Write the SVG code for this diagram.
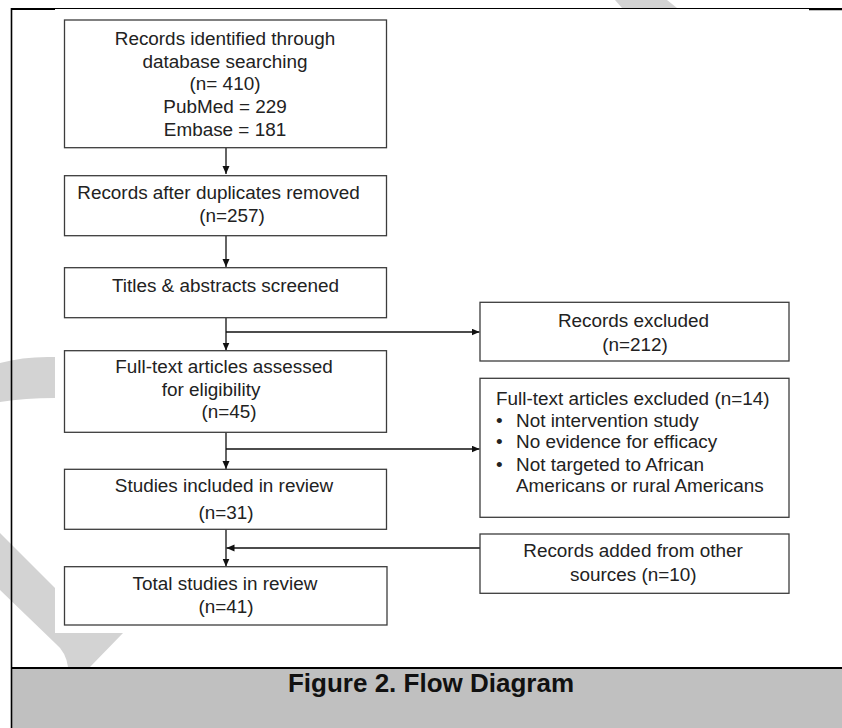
<svg xmlns="http://www.w3.org/2000/svg" width="842" height="728" viewBox="0 0 842 728">
<style>
.box{fill:#fff;stroke:#3c3c3c;stroke-width:1.3}
.t{font-family:"Liberation Sans",Arial,sans-serif;font-size:18.9px;fill:#222}
.m{text-anchor:middle}
.c{fill:none;stroke:#111;stroke-width:1.3}
.wm{fill:#d3d3d3}
.cap{font-family:"Liberation Sans",Arial,sans-serif;font-size:26px;font-weight:bold;fill:#111;text-anchor:middle}
</style>
<defs>
<marker id="ah" markerUnits="userSpaceOnUse" markerWidth="9" markerHeight="8" refX="8" refY="3.5" orient="auto">
<path d="M0,0 L8,3.5 L0,7 z" fill="#111"/>
</marker>
</defs>
<rect width="842" height="728" fill="#fff"/>
<g id="watermark">
<polygon class="wm" points="615,0 667,0 677,8 622,8"/>
<path class="wm" d="M0,363 Q25,356 55,357 L55,398 Q25,398 0,402 Z"/>
<path class="wm" d="M0,533 L55,588 L55,633 L123,633 L90,667 L68,667 Q66,652 55,643 L0,590 Z"/>
</g>
<g id="frame">
<rect x="12" y="668" width="830" height="60" fill="#c0c0c0"/>
<line x1="11" y1="668" x2="842" y2="668" stroke="#000" stroke-width="2"/>
<line x1="11.5" y1="8" x2="11.5" y2="728" stroke="#000" stroke-width="1.6"/>
<line x1="11" y1="8.5" x2="842" y2="8.5" stroke="#000" stroke-width="1.2"/>
<line x1="11" y1="9.3" x2="55" y2="9.3" stroke="#000" stroke-width="1.4"/>
<line x1="809" y1="9.6" x2="842" y2="9.6" stroke="#000" stroke-width="1.4"/>
<text class="cap" x="431" y="692">Figure 2. Flow Diagram</text>
</g>
<g id="connectors">
<line class="c" x1="226" y1="147.7" x2="226" y2="174" marker-end="url(#ah)"/>
<line class="c" x1="226" y1="235.7" x2="226" y2="267" marker-end="url(#ah)"/>
<line class="c" x1="226" y1="317.7" x2="226" y2="350.5" marker-end="url(#ah)"/>
<line class="c" x1="226" y1="332" x2="479.5" y2="332" marker-end="url(#ah)"/>
<line class="c" x1="226" y1="432.3" x2="226" y2="469" marker-end="url(#ah)"/>
<line class="c" x1="226" y1="449" x2="479.5" y2="449" marker-end="url(#ah)"/>
<line class="c" x1="226" y1="529.3" x2="226" y2="566.5" marker-end="url(#ah)"/>
<line class="c" x1="480" y1="548" x2="226.5" y2="548" marker-end="url(#ah)"/>
</g>
<g id="n1">
<rect class="box" x="64.5" y="20" width="322" height="127.7"/>
<text class="t m" x="225" y="45">Records identified through</text>
<text class="t m" x="225" y="67.5">database searching</text>
<text class="t m" x="225" y="90">(n= 410)</text>
<text class="t m" x="225" y="113">PubMed = 229</text>
<text class="t m" x="225" y="136">Embase = 181</text>
</g>
<g id="n2">
<rect class="box" x="64.5" y="175.7" width="322" height="60"/>
<text class="t m" x="218.5" y="199">Records after duplicates removed</text>
<text class="t m" x="232" y="221.7">(n=257)</text>
</g>
<g id="n3">
<rect class="box" x="64.5" y="267.7" width="322" height="50"/>
<text class="t m" x="225.5" y="291.7">Titles &amp; abstracts screened</text>
</g>
<g id="n4">
<rect class="box" x="64.5" y="350.7" width="322" height="81.6"/>
<text class="t m" x="224" y="373.3">Full-text articles assessed</text>
<text class="t m" x="211" y="395.5">for eligibility</text>
<text class="t m" x="229" y="418.3">(n=45)</text>
</g>
<g id="n5">
<rect class="box" x="64.5" y="469.3" width="322" height="60"/>
<text class="t m" x="224" y="492.3">Studies included in review</text>
<text class="t m" x="226" y="519">(n=31)</text>
</g>
<g id="n6">
<rect class="box" x="64.5" y="566.7" width="322.5" height="58.3"/>
<text class="t m" x="225" y="590">Total studies in review</text>
<text class="t m" x="226" y="613.3">(n=41)</text>
</g>
<g id="n7">
<rect class="box" x="480" y="302.3" width="309" height="58.7"/>
<text class="t m" x="633.5" y="327.3">Records excluded</text>
<text class="t m" x="635" y="350.7">(n=212)</text>
</g>
<g id="n8">
<rect class="box" x="480" y="378.3" width="309" height="139"/>
<text class="t" x="496" y="405">Full-text articles excluded (n=14)</text>
<text class="t" x="496" y="426.7">•</text>
<text class="t" x="516" y="426.7">Not intervention study</text>
<text class="t" x="496" y="448.3">•</text>
<text class="t" x="516" y="448.3">No evidence for efficacy</text>
<text class="t" x="496" y="470.7">•</text>
<text class="t" x="516" y="470.7">Not targeted to African</text>
<text class="t" x="516" y="492.3">Americans or rural Americans</text>
</g>
<g id="n9">
<rect class="box" x="480" y="534" width="309" height="59.3"/>
<text class="t m" x="633" y="557.3">Records added from other</text>
<text class="t m" x="633.3" y="580.7">sources (n=10)</text>
</g>
</svg>
